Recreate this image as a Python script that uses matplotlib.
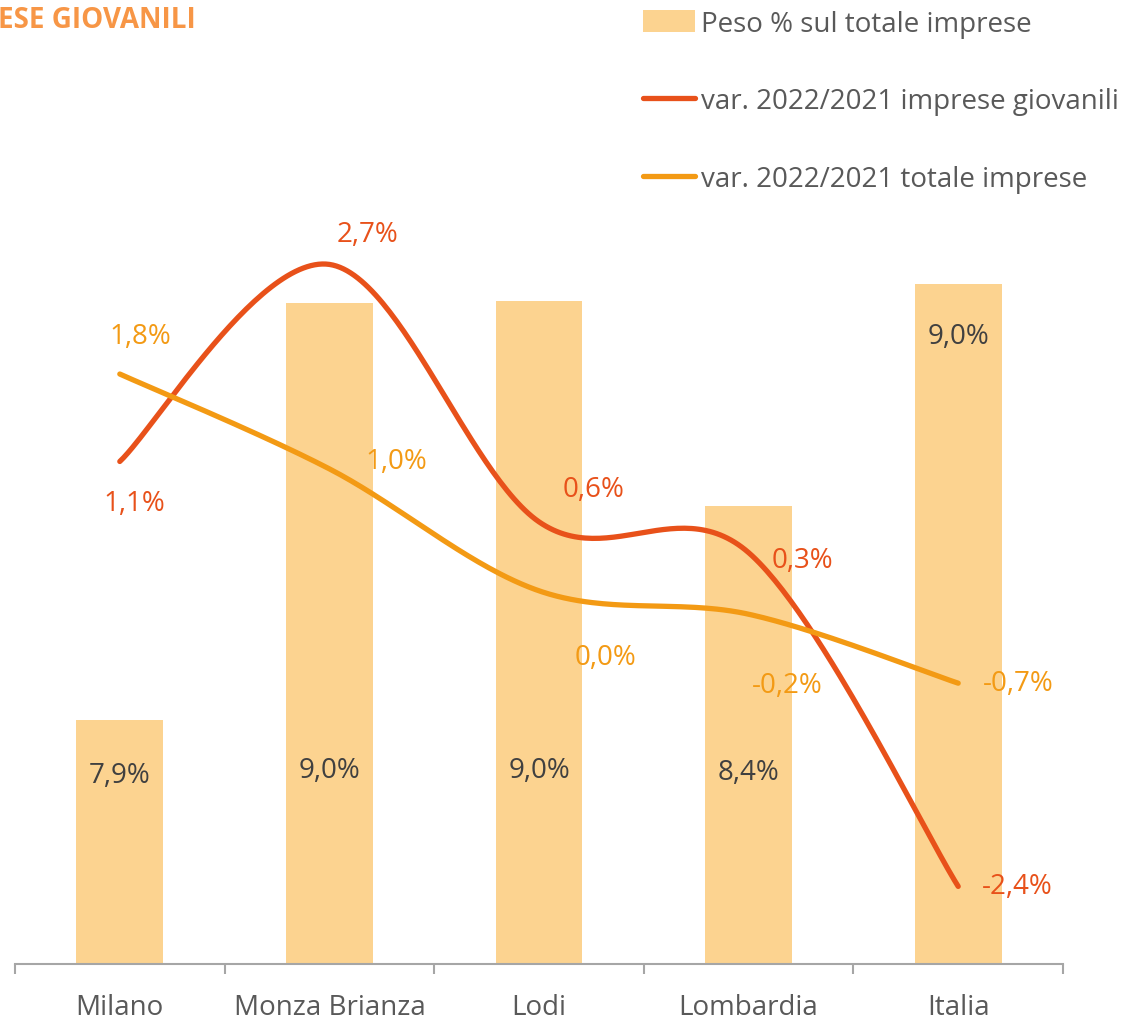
import numpy as np
import matplotlib.pyplot as plt
from matplotlib.patches import Patch
from matplotlib.lines import Line2D

plt.rcParams['font.family'] = ['Open Sans', 'DejaVu Sans']

categories = ["Milano", "Monza Brianza", "Lodi", "Lombardia", "Italia"]
peso_totale = [7.86, 8.99, 8.995, 8.44, 9.04]         # % sul totale imprese
var_giovanili = [1.08, 2.68, 0.59, 0.34, -2.37]      # var. 2022/2021 imprese giovanili
var_totale = [1.79, 1.02, 0.03, -0.16, -0.72]        # var. 2022/2021 totale imprese

legend_labels = ["Peso % sul totale imprese",
                 "var. 2022/2021 imprese giovanili",
                 "var. 2022/2021 totale imprese"]

BAR_COLOR = "#FCD390"
RED = "#E8511A"
ORANGE = "#F39A14"
TEXT_GREY = "#595959"
AXIS_GREY = "#A6A6A6"
FS = 20


def fmt(v):
    return f"{v:.1f}".replace(".", ",") + "%"


def smooth_curve(xs, ys, n=60):
    """Cubic Bezier through all points, tangents as in a Catmull-Rom spline."""
    pts = np.column_stack([xs, ys]).astype(float)
    ext = np.vstack([pts[0], pts, pts[-1]])
    t = np.linspace(0, 1, n)[:, None]
    out = []
    for i in range(len(pts) - 1):
        p0, p1, p2, p3 = ext[i], ext[i + 1], ext[i + 2], ext[i + 3]
        c1 = p1 + (p2 - p0) / 6.0
        c2 = p2 - (p3 - p1) / 6.0
        seg = ((1 - t) ** 3) * p1 + 3 * ((1 - t) ** 2) * t * c1 \
            + 3 * (1 - t) * t ** 2 * c2 + t ** 3 * p2
        out.append(seg if i == 0 else seg[1:])
    seg = np.vstack(out)
    return seg[:, 0], seg[:, 1]


W, H = 1133, 1020
fig = plt.figure(figsize=(W / 100, H / 100), dpi=100)
ax_left, ax_right, ax_bottom, ax_top = 15, 1063, 965, 226
ax = fig.add_axes([ax_left / W, 1 - ax_bottom / H,
                   (ax_right - ax_left) / W, (ax_bottom - ax_top) / H])

x = np.arange(len(categories))

# Bars: weight on total businesses
ax.bar(x, peso_totale, width=0.415, color=BAR_COLOR, zorder=2)
ax.set_ylim(7.2, 9.2)
ax.set_xlim(-0.5, len(categories) - 0.5)

for sp in ["left", "right", "top"]:
    ax.spines[sp].set_visible(False)
ax.spines["bottom"].set_color(AXIS_GREY)
ax.spines["bottom"].set_linewidth(1.5)
ax.set_yticks([])
ax.set_xticks(x)
ax.set_xticklabels(categories, fontsize=FS, color=TEXT_GREY)
ax.tick_params(axis="x", which="major", length=0, pad=21)
ax.set_xticks(np.arange(-0.5, len(categories), 1.0), minor=True)
ax.tick_params(axis="x", which="minor", length=7.5, width=1.5, color=AXIS_GREY)

# Bar labels
bar_label_frac = [0.256, 0.2625, 0.2625, 0.26, None]
for i, v in enumerate(peso_totale):
    if bar_label_frac[i] is None:
        ax.annotate(fmt(v), xy=(i, v), xytext=(0, -52), textcoords="offset pixels",
                    ha="center", va="center", fontsize=FS, color="#404040", zorder=5)
    else:
        ax.text(i, bar_label_frac[i], fmt(v), transform=ax.get_xaxis_transform(),
                ha="center", va="center", fontsize=FS, color="#404040", zorder=5)

# Lines on secondary axis
ax2 = ax.twinx()
ax2.set_ylim(-3, 3)
ax2.set_axis_off()

sx, sy = smooth_curve(x, var_giovanili)
ax2.plot(sx, sy, color=RED, lw=3.8, solid_capstyle="round", zorder=3)
sx, sy = smooth_curve(x, var_totale)
ax2.plot(sx, sy, color=ORANGE, lw=3.8, solid_capstyle="round", zorder=4)

red_offsets = [(15, -42), (38, 30), (55, 33), (54, -7), (59, 0)]
orange_offsets = [(21, 38), (67, 8), (67, -66), (39, -71), (60, 0)]
for i, v in enumerate(var_giovanili):
    ax2.annotate(fmt(v), xy=(i, v), xytext=red_offsets[i], textcoords="offset pixels",
                 ha="center", va="center", fontsize=FS, color=RED)
for i, v in enumerate(var_totale):
    ax2.annotate(fmt(v), xy=(i, v), xytext=orange_offsets[i], textcoords="offset pixels",
                 ha="center", va="center", fontsize=FS, color=ORANGE)

# Legend
handles = [Patch(facecolor=BAR_COLOR, edgecolor="none"),
           Line2D([0], [0], color=RED, lw=3.8, solid_capstyle="round"),
           Line2D([0], [0], color=ORANGE, lw=3.8, solid_capstyle="round")]
fig.legend(handles, legend_labels, loc="upper left",
           bbox_to_anchor=(643 / W, 1 - 11 / H), bbox_transform=fig.transFigure,
           frameon=False, fontsize=FS, labelcolor=TEXT_GREY,
           handlelength=1.88, handleheight=0.85, handletextpad=0.2,
           labelspacing=1.78, borderpad=0, borderaxespad=0)

# Title fragment
fig.text(-2 / W, 1 - 21 / H, "ESE GIOVANILI", ha="left", va="center",
         fontsize=20, fontweight="bold", color="#F79646")

fig.savefig("out.png", dpi=100)
